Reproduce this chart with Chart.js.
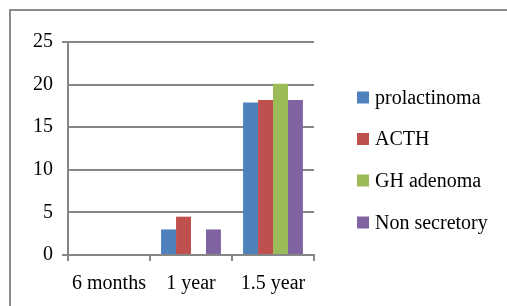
<!DOCTYPE html>
<html>
<head>
  <title>Follow-up by tumour type</title>
  <script src="https://cdn.jsdelivr.net/npm/chart.js"></script>
  <style>
    body { margin: 0; background: #fff; }
    #box { width: 507px; height: 306px; position: relative; }
  </style>
</head>
<body>
  <div id="box"><canvas id="chart"></canvas></div>

  <script>
    // data
    var periods = ["6 months", "1 year", "1.5 year"];
    var prolactinoma = [0, 3, 17.9];
    var acth = [0, 4.5, 18.2];
    var ghAdenoma = [0, 0, 20.1];
    var nonSecretory = [0, 3, 18.2];
    var yTicks = [0, 5, 10, 15, 20, 25];

    var gray = "#868686";
    var serif = "'Liberation Serif', 'Times New Roman', serif";

    // frame round the chart (cut off on right and bottom like the original)
    var framePlugin = {
      id: "frame",
      beforeDraw: function(chart) {
        var c = chart.ctx;
        c.save();
        c.strokeStyle = "#8c8c8c";
        c.lineWidth = 2;
        c.beginPath();
        c.moveTo(10, 306);
        c.lineTo(10, 10);
        c.lineTo(507, 10);
        c.stroke();
        c.restore();
      }
    };

    // legend drawn on the right, fixed rows
    var legendPlugin = {
      id: "sideLegend",
      afterDraw: function(chart) {
        var c = chart.ctx;
        var rows = [97.5, 139, 180.5, 222.5];
        c.save();
        c.font = "20px " + serif;
        c.textBaseline = "middle";
        chart.data.datasets.forEach(function(ds, i) {
          c.fillStyle = ds.backgroundColor;
          c.fillRect(357, rows[i] - 6, 12, 12);
          c.fillStyle = "#000";
          c.fillText(ds.label, 375, rows[i] + 1);
        });
        c.restore();
      }
    };

    new Chart("chart", {
      type: "bar",
      data: {
        labels: periods,
        datasets: [
          { label: "prolactinoma", data: prolactinoma, backgroundColor: "#4F81BD" },
          { label: "ACTH", data: acth, backgroundColor: "#C0504D" },
          { label: "GH adenoma", data: ghAdenoma, backgroundColor: "#9BBB59" },
          { label: "Non secretory", data: nonSecretory, backgroundColor: "#8064A2" }
        ]
      },
      options: {
        responsive: true,
        maintainAspectRatio: false,
        animation: false,
        datasets: {
          bar: { barPercentage: 1, categoryPercentage: 0.73, borderWidth: 0 }
        },
        layout: { padding: { left: 0, top: 42, right: 193, bottom: 0 } },
        plugins: {
          legend: { display: false },
          tooltip: { enabled: false }
        },
        scales: {
          x: {
            afterFit: function(s) { s.height = 51; },
            grid: {
              offset: true,
              drawOnChartArea: false,
              drawTicks: true,
              tickLength: 6,
              color: gray,
              lineWidth: 2
            },
            border: { color: gray, width: 2 },
            ticks: {
              color: "#000",
              padding: 11,
              font: { family: serif, size: 20 }
            }
          },
          y: {
            min: 0,
            max: 25,
            afterFit: function(s) { s.width = 68; },
            afterBuildTicks: function(s) {
              s.ticks = yTicks.map(function(v) { return { value: v }; });
            },
            grid: {
              color: gray,
              lineWidth: 2,
              drawTicks: true,
              tickLength: 6,
              tickColor: function(ctx) {
                return (ctx.index === 0 || ctx.index === yTicks.length - 1) ? gray : "rgba(0,0,0,0)";
              }
            },
            border: { color: gray, width: 2 },
            ticks: {
              color: "#000",
              padding: 9,
              font: { family: serif, size: 20 }
            }
          }
        }
      },
      plugins: [framePlugin, legendPlugin]
    });
  </script>
</body>
</html>
